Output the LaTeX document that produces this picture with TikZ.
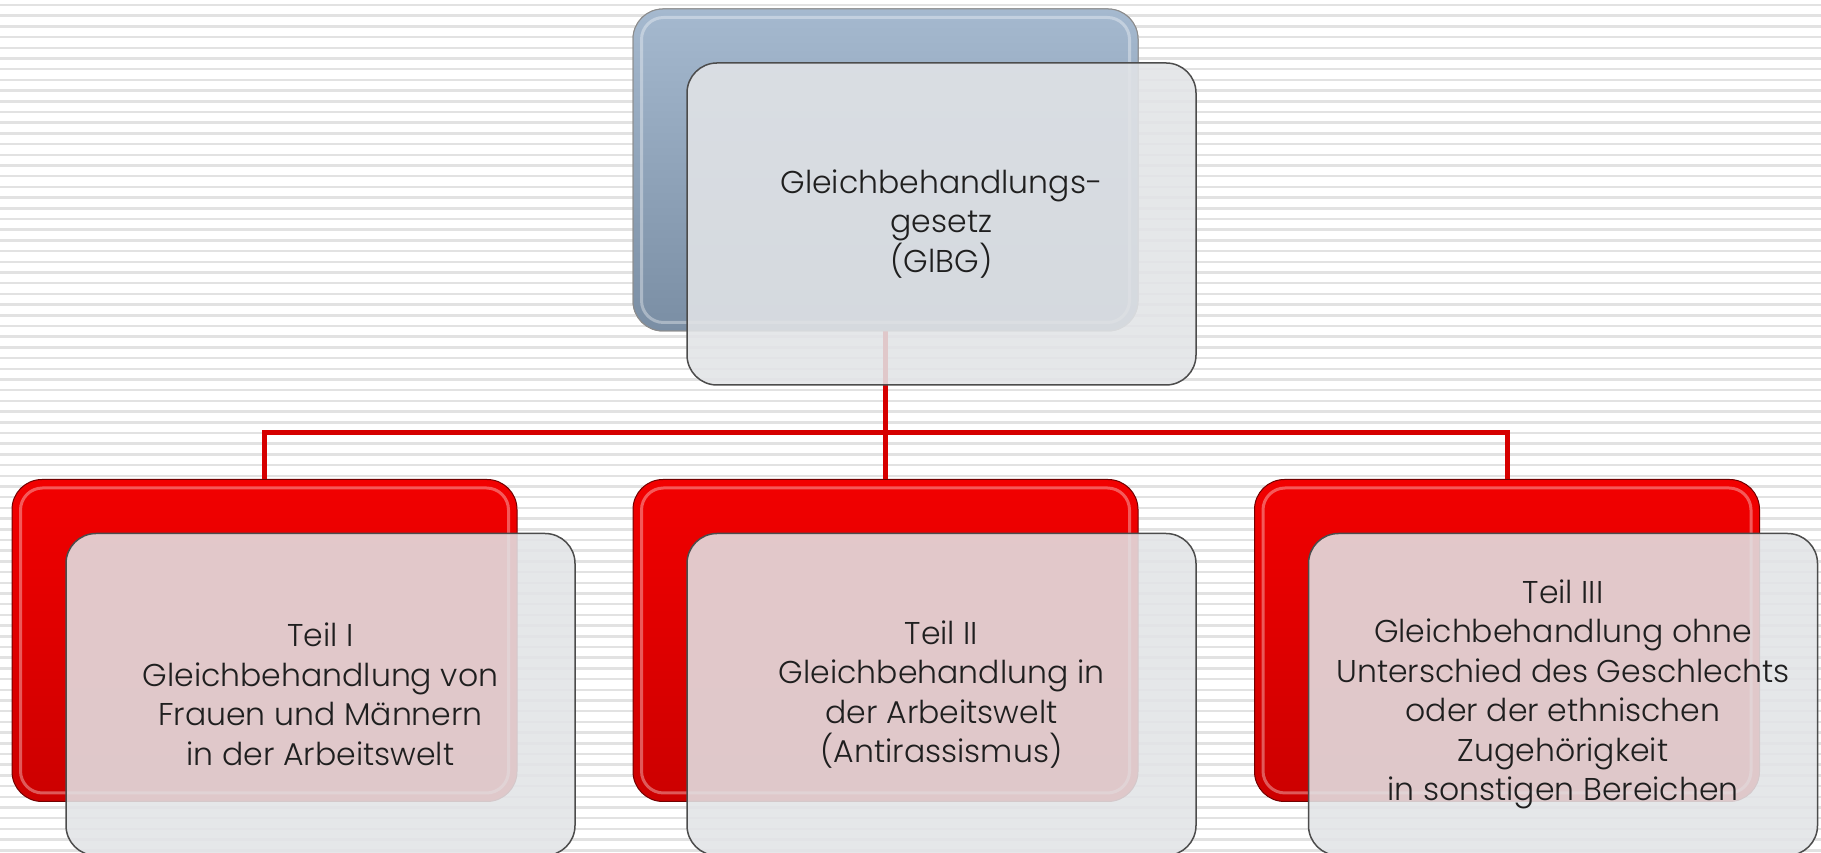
\documentclass[tikz,border=0pt]{standalone}
\usepackage{fontspec}
\setmainfont{Poppins}[UprightFont=* Light]
\usetikzlibrary{calc}

\definecolor{stripegray}{RGB}{226,226,226}
\definecolor{bluetop}{RGB}{165,185,207}
\definecolor{bluebot}{RGB}{122,142,164}
\definecolor{redtop}{RGB}{242,0,0}
\definecolor{redbot}{RGB}{204,0,0}
\definecolor{linered}{RGB}{214,0,0}
\definecolor{glass}{RGB}{226,228,231}

\tikzset{
	backbox/.style={rectangle, rounded corners=30pt, minimum width=505pt, minimum height=322pt, line width=1pt},
	bluebox/.style={backbox, draw=black!45, top color=bluetop, bottom color=bluebot},
	redbox/.style={backbox, draw=red!45!black, top color=redtop, middle color=redtop, bottom color=redbot},
	frontbox/.style={rectangle, rounded corners=30pt, minimum width=509pt, minimum height=322pt, draw=black!70, line width=1.5pt, fill=glass, fill opacity=0.88, text opacity=1, text=black!88, align=center, font=\fontsize{31.5}{39.5}\selectfont},
	rim/.style={draw=white, line width=3pt, opacity=0.35, rounded corners=22pt},
	conn/.style={draw=linered, line width=5pt},
	stripe/.style={draw=stripegray, line width=2.5pt}
}

\begin{document}
\begin{tikzpicture}[x=1pt, y=1pt]
			%%%%% START %%%%%
			\useasboundingbox (0, 0) rectangle (1821, 853);
			\fill[white] (0, 0) rectangle (1821, 853);
			
			\foreach \i in {0,...,79}
				\draw[stripe] (0, 848-\i*10.7) -- (1821, 848-\i*10.7);
			
			\coordinate (bus) at (0, 420);
			
			\node[bluebox] (topback) at (885.5, 683) {};
			\node[redbox] (back1) at (264.5, 212.5) {};
			\node[redbox] (back2) at (885.5, 212.5) {};
			\node[redbox] (back3) at (1507, 212.5) {};
			
			\draw[conn] (topback.center) -- (back2.north);
			\draw[conn] (back1.north) |- (bus -| back3.north) -- (back3.north);
			
			% redraw the blue box over its own line
			\node[bluebox] at (topback) {};
			
			\draw[rim] ($(topback.south west)+(9, 9)$) rectangle ($(topback.north east)-(9, 9)$);
			\draw[rim] ($(back1.south west)+(9, 9)$) rectangle ($(back1.north east)-(9, 9)$);
			\draw[rim] ($(back2.south west)+(9, 9)$) rectangle ($(back2.north east)-(9, 9)$);
			\draw[rim] ($(back3.south west)+(9, 9)$) rectangle ($(back3.north east)-(9, 9)$);
			
			\node[frontbox] (topfront) at ($(topback)+(56, -54)$) {Gleichbehandlungs-\\gesetz\\(GlBG)};
			\node[frontbox] (front1) at ($(back1)+(56, -54)$) {Teil I\\Gleichbehandlung von\\Frauen und Männern\\in der Arbeitswelt};
			\node[frontbox] (front2) at ($(back2)+(56, -54)$) {Teil II\\Gleichbehandlung in\\der Arbeitswelt\\(Antirassismus)};
			\node[frontbox] (front3) at ($(back3)+(56, -54)$) {Teil III\\Gleichbehandlung ohne\\Unterschied des Geschlechts\\oder der ethnischen\\Zugehörigkeit\\in sonstigen Bereichen};
			
			%%%%% END %%%%%
\end{tikzpicture}
\end{document}
